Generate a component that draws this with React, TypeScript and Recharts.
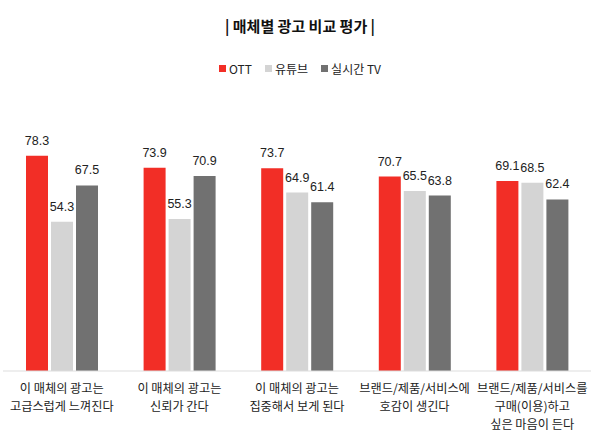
import React from "react";
import { Bar, BarChart, LabelList, XAxis, YAxis } from "recharts";

const categories = [
  "이 매체의 광고는\n고급스럽게 느껴진다",
  "이 매체의 광고는\n신뢰가 간다",
  "이 매체의 광고는\n집중해서 보게 된다",
  "브랜드/제품/서비스에\n호감이 생긴다",
  "브랜드/제품/서비스를\n구매(이용)하고\n싶은 마음이 든다",
];
const ott = [78.3, 73.9, 73.7, 70.7, 69.1];
const youtube = [54.3, 55.3, 64.9, 65.5, 68.5];
const liveTv = [67.5, 70.9, 61.4, 63.8, 62.4];

const seriesNames = ["OTT", "유튜브", "실시간 TV"];
const seriesColors = ["#f22e26", "#d4d4d4", "#717171"];

const data = categories.map((name, i) => ({
  name,
  OTT: ott[i],
  유튜브: youtube[i],
  "실시간 TV": liveTv[i],
}));

const FONT = '"Noto Sans CJK KR", "Noto Sans", sans-serif';
const NUM_FONT = '"Liberation Sans", Arial, sans-serif';

const CategoryTick = ({ x, y, payload }: any) => {
  const lines = String(payload.value).split("\n");
  return (
    <text x={x} y={y} textAnchor="middle" fill="#222" fontSize={12.2} fontFamily={FONT}>
      {lines.map((line, i) => (
        <tspan key={i} x={x} dy={i === 0 ? 14 : 18}>
          {line}
        </tspan>
      ))}
    </text>
  );
};

export default function App() {
  return (
    <div style={{ position: "absolute", left: 0, top: 0, width: 600, height: 435, background: "#fff", fontFamily: FONT }}>
      <div
        style={{
          position: "absolute",
          top: 15,
          left: 0,
          width: 600,
          textAlign: "center",
          fontSize: 15,
          fontWeight: 700,
          color: "#111",
        }}
      >
        | 매체별 광고 비교 평가 |
      </div>
      <div
        style={{
          position: "absolute",
          top: 60,
          left: 0,
          width: 600,
          display: "flex",
          justifyContent: "center",
          alignItems: "center",
          gap: 13,
          fontSize: 12,
          color: "#222",
        }}
      >
        {seriesNames.map((name, i) => (
          <span key={name} style={{ display: "flex", alignItems: "center" }}>
            <span style={{ width: 7, height: 7, background: seriesColors[i], marginRight: 3, display: "inline-block" }} />
            {name}
          </span>
        ))}
      </div>
      <BarChart
        width={600}
        height={435}
        data={data}
        margin={{ top: 96, right: 9, left: 3, bottom: 4 }}
        barSize={22}
        barGap={3}
      >
        <XAxis
          dataKey="name"
          interval={0}
          height={60}
          tickLine={false}
          axisLine={{ stroke: "#ddd" }}
          tick={<CategoryTick />}
        />
        <YAxis hide domain={[0, 100]} />
        {seriesNames.map((name, i) => (
          <Bar key={name} dataKey={name} fill={seriesColors[i]} isAnimationActive={false}>
            <LabelList dataKey={name} position="top" offset={11} fill="#222" fontSize={12.5} fontFamily={NUM_FONT} />
          </Bar>
        ))}
      </BarChart>
    </div>
  );
}
